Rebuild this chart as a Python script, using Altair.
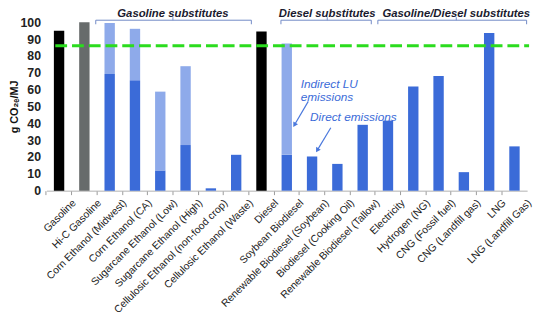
import altair as alt
import pandas as pd

categories = ["Gasoline", "Hi-C Gasoline", "Corn Ethanol (Midwest)", "Corn Ethanol (CA)",
              "Sugarcane Ethanol (Low)", "Sugarcane Ethanol (High)",
              "Cellulosic Ethanol (non-food  crop)", "Cellulosic Ethanol (Waste)", "Diesel",
              "Soybean Biodiesel", "Renewable Biodiesel (Soybean)", "Biodiesel (Cooking Oil)",
              "Renewable Biodiesel (Tallow)", "Electricity", "Hydrogen  (NG)", "CNG (Fossil fuel)",
              "CNG (Landfill  gas)", "LNG", "LNG (Landfill  Gas)"]
direct = [95, 100, 69.2, 65.6, 12.0, 27.1, 1.4, 21.3, 94.5, 21.3, 20.3, 15.9, 39.1,
          41.6, 61.9, 68.1, 11.0, 93.6, 26.3]
total = [95, 100, 99.6, 96.1, 58.8, 73.9, 1.4, 21.3, 94.5, 87.4, 20.3, 15.9, 39.1,
         41.6, 61.9, 68.1, 11.0, 93.6, 26.3]
kinds = ["Petroleum", "HiC", "Direct", "Direct", "Direct", "Direct", "Direct", "Direct", "Petroleum",
         "Direct", "Direct", "Direct", "Direct", "Direct", "Direct", "Direct", "Direct", "Direct", "Direct"]
threshold = [86]
y_ticks = [0, 10, 20, 30, 40, 50, 60, 70, 80, 90, 100]

bracket_labels = ["Gasoline substitutes", "Diesel substitutes", "Gasoline/Diesel substitutes"]
bracket_start = [1.95, 9.27, 13.1]
bracket_end = [8.1, 12.84, 18.98]
bracket_mid = [5.0, 11.1, 16.2]

rows = []
for i, c in enumerate(categories):
    rows.append({"cat": c, "value": direct[i], "kind": kinds[i], "ord": 0})
    ind = round(total[i] - direct[i], 2)
    if ind > 0:
        rows.append({"cat": c, "value": ind, "kind": "Indirect", "ord": 1})
bars_df = pd.DataFrame(rows)

color_scale = alt.Scale(domain=["Petroleum", "HiC", "Direct", "Indirect"],
                        range=["#000000", "#676b6b", "#3b6bd8", "#8eaaea"])

bars = alt.Chart(bars_df).mark_bar(width=alt.RelativeBandSize(0.41)).encode(
    x=alt.X("cat:N", sort=categories, title=None,
            scale=alt.Scale(paddingInner=0, paddingOuter=0),
            axis=alt.Axis(labelAngle=-45, labelAlign="right", labelBaseline="top",
                          labelFont="Liberation Sans", labelFontSize=10.5, labelColor="#222222",
                          bandPosition=0, labelOffset=12, tickSize=4, tickColor="#9a9a9a",
                          domainColor="#b0b0b0", labelPadding=3, labelLimit=400)),
    y=alt.Y("value:Q", stack="zero", title="g CO₂ₑ/MJ",
            scale=alt.Scale(domain=[0, 100], nice=False),
            axis=alt.Axis(values=y_ticks, grid=False, domain=False, ticks=False,
                          labelOverlap=False,
                          labelFont="Liberation Sans", labelFontSize=12.5, labelFontWeight="bold",
                          labelColor="#222222", labelPadding=6,
                          titleFont="Liberation Sans", titleFontSize=11, titleFontWeight="bold",
                          titleColor="#111111", titlePadding=1)),
    color=alt.Color("kind:N", scale=color_scale, legend=None),
    order=alt.Order("ord:Q"),
)

line = alt.Chart(pd.DataFrame({"y": threshold})).mark_rule(
    color="#2bdc1e", strokeWidth=3, strokeDash=[12, 5]
).encode(y=alt.Y("y:Q", axis=None), x=alt.value(9), x2=alt.value(490))

# annotation layer with index-based x
idx_scale = alt.Scale(domain=[0, 19], nice=False, zero=False)
br_df = pd.DataFrame({"label": bracket_labels, "s": bracket_start, "e": bracket_end, "m": bracket_mid})
bcol = "#7189c6"
bh = alt.Chart(br_df).mark_rule(color=bcol, strokeWidth=1).encode(
    x=alt.X("s:Q", scale=idx_scale, axis=None), x2="e:Q", y=alt.YDatum(101.2, axis=None))
bl = alt.Chart(br_df).mark_rule(color=bcol, strokeWidth=1).encode(
    x=alt.X("s:Q", scale=idx_scale, axis=None), y=alt.YDatum(101.2, axis=None), y2=alt.datum(98.8))
brr = alt.Chart(br_df).mark_rule(color=bcol, strokeWidth=1).encode(
    x=alt.X("e:Q", scale=idx_scale, axis=None), y=alt.YDatum(101.2, axis=None), y2=alt.datum(98.8))
bp = alt.Chart(br_df).mark_rule(color=bcol, strokeWidth=1).encode(
    x=alt.X("m:Q", scale=idx_scale, axis=None), y=alt.YDatum(101.2, axis=None), y2=alt.datum(103.0))
bt = alt.Chart(br_df).mark_text(font="Liberation Sans", fontSize=11.5, fontStyle="italic",
                                fontWeight="bold", color="#1a1a2e", baseline="middle").encode(
    x=alt.X("m:Q", scale=idx_scale, axis=None), y=alt.YDatum(104.6, axis=None), text="label:N")

ann_df = pd.DataFrame({"x": [10.05, 10.05, 10.42],
                       "y": [63.3, 55.6, 43.6],
                       "t": ["Indirect LU", "emissions", "Direct emissions"]})
ann = alt.Chart(ann_df).mark_text(font="Liberation Sans", fontSize=12, fontStyle="italic",
                                  color="#3b6bd8", align="left", baseline="middle").encode(
    x=alt.X("x:Q", scale=idx_scale, axis=None), y=alt.Y("y:Q", axis=None), text="t:N")

arr_df = pd.DataFrame({"x1": [10.35, 11.24], "y1": [53.0, 37.4],
                       "x2": [9.82, 10.72], "y2": [39.4, 24.4]})
arr_lines = alt.Chart(arr_df).mark_rule(color="#4a78dc", strokeWidth=1.2).encode(
    x=alt.X("x1:Q", scale=idx_scale, axis=None), y=alt.Y("y1:Q", axis=None), x2="x2:Q", y2="y2:Q")
arr_heads = alt.Chart(arr_df).mark_point(shape="triangle", filled=True, size=30, angle=211,
                                         color="#4a78dc", opacity=1).encode(
    x=alt.X("x2:Q", scale=idx_scale, axis=None), y=alt.Y("y2:Q", axis=None))

overlay = alt.layer(bh, bl, brr, bp, bt, ann, arr_lines, arr_heads).resolve_axis(y="independent")

chart = alt.layer(bars, line, overlay).resolve_scale(x="independent").resolve_axis(
    y="independent").properties(
    width=488, height=171,
    autosize=alt.AutoSizeParams(type="none"),
    padding={"left": 39, "top": 12, "right": 8, "bottom": 140},
).configure_view(stroke=None).configure_axisY(labelOverlap=False)

chart.save("out.html", embed_options={"renderer": "svg", "actions": False})
